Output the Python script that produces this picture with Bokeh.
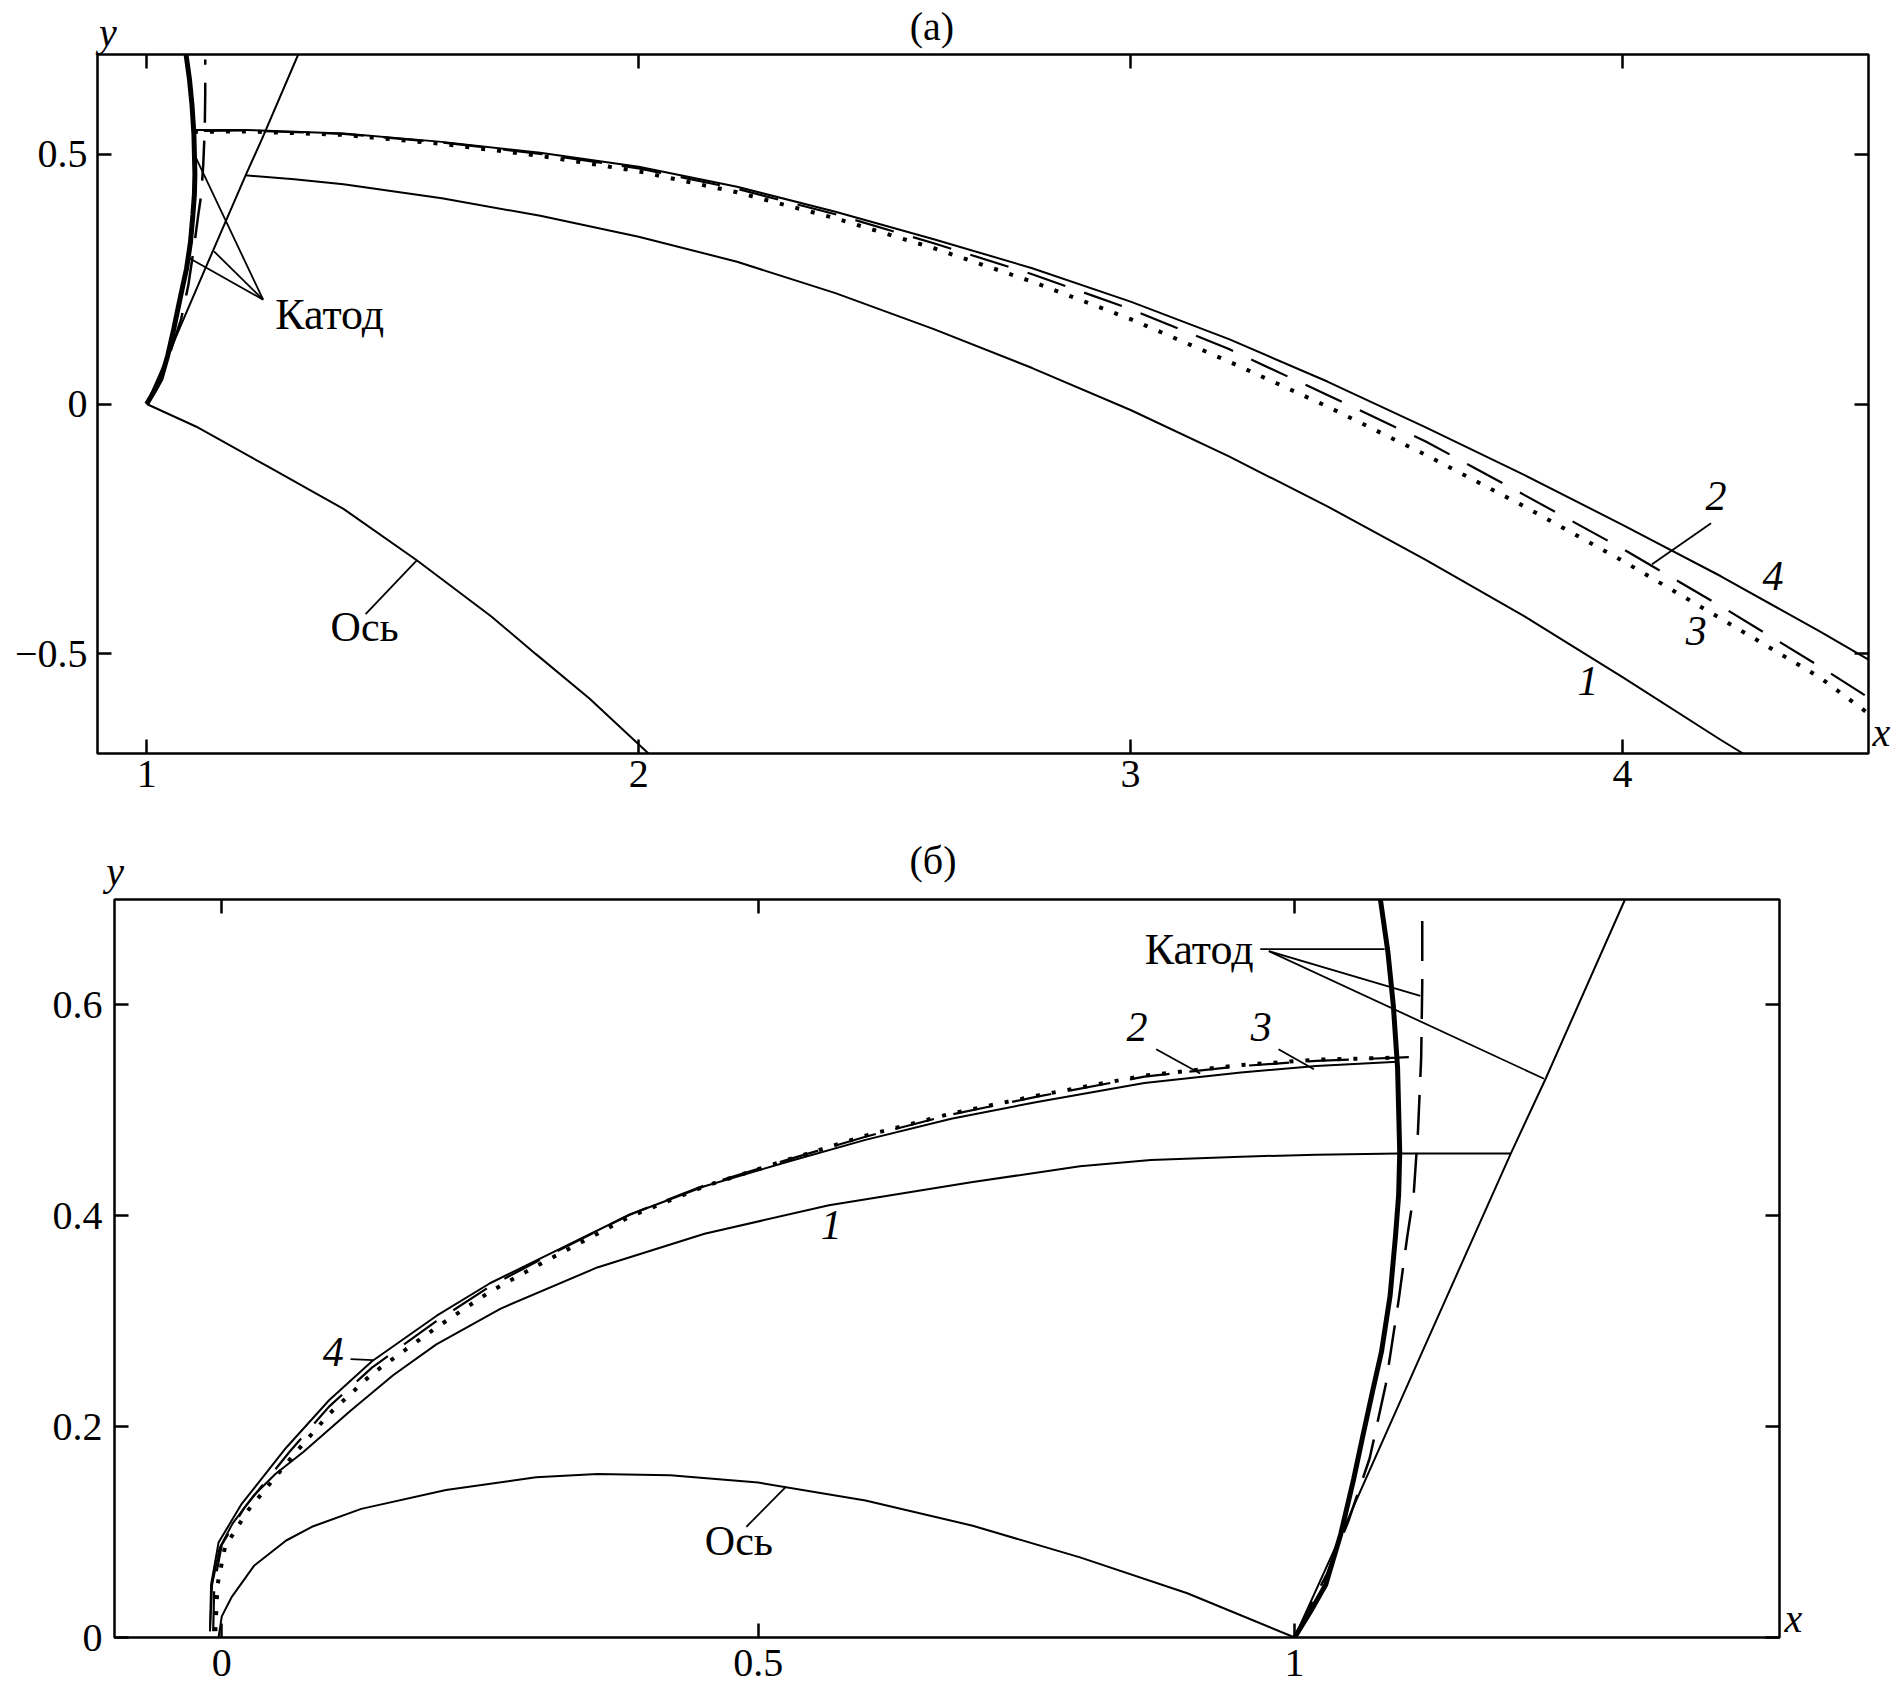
from bokeh.plotting import figure
from bokeh.layouts import column
from bokeh.models import LinearAxis, FixedTicker, Label, Range1d
from bokeh.embed import file_html
from bokeh.resources import INLINE

FONT = "Liberation Serif"

# ---------------- shared geometry ----------------
cathode_x = [1.0, 1.015, 1.029, 1.043, 1.055, 1.064, 1.073, 1.081, 1.089, 1.094, 1.097, 1.098, 1.096, 1.092, 1.087, 1.080]
cathode_y = [0.0, 0.025, 0.05, 0.098, 0.15, 0.193, 0.235, 0.271, 0.324, 0.38, 0.42, 0.46, 0.54, 0.60, 0.65, 0.70]
dcathode_x = [1.0, 1.03, 1.05, 1.07, 1.085, 1.097, 1.105, 1.111, 1.115, 1.118, 1.119, 1.119]
dcathode_y = [0.0, 0.06, 0.11, 0.17, 0.24, 0.32, 0.38, 0.42, 0.48, 0.55, 0.62, 0.69]
edge_x = [1.0, 1.04, 1.119, 1.2015, 1.234, 1.308]
edge_y = [0.0, 0.09, 0.271, 0.459, 0.53, 0.70]

# ---------------- panel (a) ----------------
a_xticks = [1, 2, 3, 4]
a_xticklabels = ["1", "2", "3", "4"]
a_yticks = [-0.5, 0, 0.5]
a_yticklabels = ["\u22120.5", "0", "0.5"]

a_c1_x = [1.2, 1.3, 1.4, 1.6, 1.8, 2.0, 2.2, 2.4, 2.6, 2.8, 3.0, 3.2, 3.4, 3.6, 3.8, 4.0, 4.2, 4.245]
a_c1_y = [0.458, 0.450, 0.440, 0.412, 0.377, 0.335, 0.285, 0.222, 0.150, 0.072, -0.012, -0.105, -0.205, -0.312, -0.425, -0.547, -0.673, -0.70]
a_c2_x = [1.116, 1.2, 1.4, 1.6, 1.8, 2.0, 2.2, 2.4, 2.6, 2.8, 3.0, 3.2, 3.4, 3.6, 3.8, 4.0, 4.2, 4.4, 4.5]
a_c2_y = [0.547, 0.548, 0.541, 0.524, 0.501, 0.472, 0.431, 0.380, 0.322, 0.260, 0.190, 0.110, 0.018, -0.075, -0.182, -0.290, -0.405, -0.525, -0.588]
a_c3_x = [1.096, 1.2, 1.4, 1.6, 1.8, 2.0, 2.2, 2.4, 2.6, 2.8, 3.0, 3.2, 3.4, 3.6, 3.8, 4.0, 4.2, 4.4, 4.5]
a_c3_y = [0.545, 0.546, 0.539, 0.521, 0.497, 0.466, 0.424, 0.372, 0.312, 0.245, 0.170, 0.085, -0.005, -0.102, -0.205, -0.314, -0.430, -0.547, -0.620]
a_c4_x = [1.096, 1.2, 1.4, 1.6, 1.8, 2.0, 2.2, 2.4, 2.6, 2.8, 3.0, 3.2, 3.4, 3.6, 3.8, 4.0, 4.2, 4.4, 4.5]
a_c4_y = [0.549, 0.549, 0.542, 0.525, 0.503, 0.475, 0.435, 0.385, 0.330, 0.272, 0.205, 0.130, 0.045, -0.047, -0.142, -0.242, -0.345, -0.455, -0.512]
a_axis_x = [1.0, 1.1, 1.246, 1.4, 1.549, 1.7, 1.79, 1.9, 2.02]
a_axis_y = [0.0, -0.045, -0.125, -0.21, -0.313, -0.425, -0.50, -0.59, -0.70]

# leader lines (a): x0, y0, x1, y1
a_lead_x0 = [1.2367, 1.2367, 1.2367, 1.445, 4.18]
a_lead_y0 = [0.2089, 0.2089, 0.2089, -0.421, -0.239]
a_lead_x1 = [1.1007, 1.087, 1.137, 1.549, 4.06]
a_lead_y1 = [0.492, 0.292, 0.3055, -0.313, -0.321]

# text labels inside frame (a)
a_txt = ["Катод", "Ось", "1", "2", "3", "4"]
a_txt_x = [1.372, 1.443, 3.93, 4.19, 4.15, 4.306]
a_txt_y = [0.180, -0.447, -0.555, -0.185, -0.455, -0.345]
a_txt_italic = [False, False, True, True, True, True]

# labels outside frame (a): title, y-name (on top), x-name (on right)
a_title = ["(а)"]
a_title_x = [2.596]
a_yname = ["y"]
a_yname_x = [0.921]
a_xname = ["x"]
a_xname_y = [-0.657]

# ---------------- panel (b) ----------------
b_xticks = [0, 0.5, 1]
b_xticklabels = ["0", "0.5", "1"]
b_yticks = [0, 0.2, 0.4, 0.6]
b_yticklabels = ["0", "0.2", "0.4", "0.6"]

b_c1_x = [-0.011, -0.009, -0.002, 0.01, 0.03, 0.05, 0.076, 0.12, 0.16, 0.2, 0.26, 0.35, 0.45, 0.566, 0.7, 0.8, 0.866, 0.95, 1.02, 1.097, 1.15, 1.2015]
b_c1_y = [0.006, 0.05, 0.085, 0.108, 0.135, 0.155, 0.176, 0.215, 0.249, 0.278, 0.312, 0.351, 0.383, 0.41, 0.432, 0.447, 0.453, 0.456, 0.458, 0.459, 0.459, 0.459]
b_c2_x = [-0.008, -0.007, 0.0, 0.021, 0.063, 0.1, 0.14, 0.2, 0.25, 0.3, 0.38, 0.45, 0.53, 0.6, 0.68, 0.76, 0.86, 0.95, 1.02, 1.096, 1.117]
b_c2_y = [0.006, 0.05, 0.088, 0.123, 0.176, 0.219, 0.256, 0.300, 0.333, 0.360, 0.401, 0.429, 0.454, 0.475, 0.496, 0.513, 0.532, 0.542, 0.547, 0.550, 0.551]
b_c3_x = [-0.006, -0.004, 0.003, 0.024, 0.066, 0.1, 0.14, 0.2, 0.25, 0.3, 0.38, 0.45, 0.53, 0.6, 0.68, 0.76, 0.86, 0.95, 1.02, 1.096]
b_c3_y = [0.006, 0.05, 0.086, 0.12, 0.172, 0.212, 0.25, 0.294, 0.328, 0.356, 0.399, 0.428, 0.454, 0.476, 0.497, 0.514, 0.533, 0.543, 0.548, 0.550]
b_c4_x = [-0.011, -0.01, -0.003, 0.018, 0.06, 0.1, 0.14, 0.2, 0.25, 0.3, 0.38, 0.45, 0.53, 0.6, 0.68, 0.76, 0.86, 0.95, 1.02, 1.096]
b_c4_y = [0.006, 0.05, 0.09, 0.126, 0.18, 0.225, 0.262, 0.305, 0.336, 0.361, 0.401, 0.428, 0.452, 0.472, 0.492, 0.508, 0.526, 0.536, 0.542, 0.546]
b_axis_x = [-0.003, 0.0, 0.009, 0.03, 0.06, 0.084, 0.13, 0.209, 0.293, 0.35, 0.418, 0.5, 0.6, 0.7, 0.8, 0.9, 1.0]
b_axis_y = [0.0, 0.02, 0.038, 0.068, 0.092, 0.105, 0.122, 0.14, 0.152, 0.155, 0.154, 0.147, 0.13, 0.106, 0.076, 0.042, 0.0]

b_lead_x0 = [0.968, 0.976, 0.976, 0.489, 0.871, 0.985, 0.12]
b_lead_y0 = [0.653, 0.651, 0.651, 0.105, 0.558, 0.558, 0.264]
b_lead_x1 = [1.0839, 1.1172, 1.2325, 0.526, 0.912, 1.018, 0.141]
b_lead_y1 = [0.653, 0.6085, 0.530, 0.143, 0.535, 0.539, 0.263]

b_txt = ["Катод", "Ось", "1", "2", "3", "4"]
b_txt_x = [0.911, 0.482, 0.568, 0.853, 0.969, 0.104]
b_txt_y = [0.653, 0.092, 0.391, 0.579, 0.579, 0.271]
b_txt_italic = [False, False, True, True, True, True]

b_title = ["(б)"]
b_title_x = [0.663]
b_yname = ["y"]
b_yname_x = [-0.0995]
b_xname = ["x"]
b_xname_y = [0.018]


def style_axis(ax, ticks, labels, standoff, show):
    ax.ticker = FixedTicker(ticks=ticks)
    ax.axis_line_color = None
    ax.major_tick_in = 14
    ax.major_tick_out = 0
    ax.major_tick_line_width = 2.5
    ax.major_tick_line_color = "black"
    ax.minor_tick_line_color = None
    ax.major_label_standoff = standoff
    ax.major_label_text_font = FONT
    if show:
        ax.major_label_overrides = {t: l for t, l in zip(ticks, labels)}
        ax.major_label_text_font_size = "40px"
        ax.major_label_text_color = "black"
    else:
        ax.major_label_text_font_size = "0px"
        ax.major_label_text_color = None


def name_axis(ticks, labels, standoff, italic, size):
    return LinearAxis(ticker=FixedTicker(ticks=ticks),
                      major_label_overrides={t: l for t, l in zip(ticks, labels)},
                      major_label_standoff=standoff, axis_line_color=None,
                      major_tick_line_color=None, minor_tick_line_color=None,
                      major_tick_in=0, major_tick_out=0,
                      major_label_text_font=FONT, major_label_text_font_size=size,
                      major_label_text_font_style="italic" if italic else "normal",
                      major_label_text_color="black")


def build(xr, yr, fw, fh, mb, xt, xtl, yt, ytl, xstand, ystand,
          yname, title, xname, stands):
    p = figure(output_backend="svg", toolbar_location=None,
               x_range=Range1d(*xr), y_range=Range1d(*yr),
               frame_width=fw, frame_height=fh, frame_align=False,
               min_border_left=mb[0], min_border_right=mb[1],
               min_border_top=mb[2], min_border_bottom=mb[3])
    p.xgrid.visible = False
    p.ygrid.visible = False
    p.outline_line_color = "black"
    p.outline_line_width = 2.5
    p.outline_line_alpha = 1.0
    p.background_fill_color = "white"
    p.border_fill_color = "white"
    style_axis(p.xaxis[0], xt, xtl, xstand, True)
    style_axis(p.yaxis[0], yt, ytl, ystand, True)
    top = LinearAxis()
    style_axis(top, xt, xtl, 0, False)
    p.add_layout(top, "above")
    right = LinearAxis()
    style_axis(right, yt, ytl, 0, False)
    p.add_layout(right, "right")
    # axis-name and panel-title labels carried by tick-less axes
    p.add_layout(name_axis(yname[1], yname[0], stands[0], True, "40px"), "above")
    p.add_layout(name_axis(title[1], title[0], stands[1], False, "40px"), "above")
    p.add_layout(name_axis(xname[1], xname[0], stands[2], True, "40px"), "right")
    return p


def draw(p, c1, c2, c3, c4, ax, lead, txt):
    p.line(cathode_x, cathode_y, line_color="black", line_width=5)
    p.line(dcathode_x, dcathode_y, line_color="black", line_width=2.5, line_dash="40 18")
    p.line(edge_x, edge_y, line_color="black", line_width=2)
    p.line(ax[0], ax[1], line_color="black", line_width=2)
    p.line(c1[0], c1[1], line_color="black", line_width=2)
    p.line(c4[0], c4[1], line_color="black", line_width=2)
    p.line(c2[0], c2[1], line_color="black", line_width=2.2, line_dash="40 20")
    p.line(c3[0], c3[1], line_color="black", line_width=4, line_dash="4 12")
    p.segment(x0=lead[0], y0=lead[1], x1=lead[2], y1=lead[3], line_color="black", line_width=1.8)
    for t, x, y, it in zip(*txt):
        size = "44px" if t == "Катод" else "42px"
        p.add_layout(Label(x=x, y=y, text=t, text_font=FONT, text_font_size=size,
                           text_font_style="italic" if it else "normal",
                           text_align="center", text_baseline="middle", text_color="black"))


pa = build((0.9, 4.5), (-0.7, 0.7), 1771, 699, (97, 34, 53, 56),
           a_xticks, a_xticklabels, a_yticks, a_yticklabels, 7, 10,
           (a_yname, a_yname_x), (a_title, a_title_x), (a_xname, a_xname_y),
           (0, -42, 4))
draw(pa, (a_c1_x, a_c1_y), (a_c2_x, a_c2_y), (a_c3_x, a_c3_y), (a_c4_x, a_c4_y),
     (a_axis_x, a_axis_y), (a_lead_x0, a_lead_y0, a_lead_x1, a_lead_y1),
     (a_txt, a_txt_x, a_txt_y, a_txt_italic))

pb = build((-0.1, 1.452), (0.0, 0.7), 1665, 738, (114, 123, 90, 60),
           b_xticks, b_xticklabels, b_yticks, b_yticklabels, 12, 12,
           (b_yname, b_yname_x), (b_title, b_title_x), (b_xname, b_xname_y),
           (6, -37, 5))
draw(pb, (b_c1_x, b_c1_y), (b_c2_x, b_c2_y), (b_c3_x, b_c3_y), (b_c4_x, b_c4_y),
     (b_axis_x, b_axis_y), (b_lead_x0, b_lead_y0, b_lead_x1, b_lead_y1),
     (b_txt, b_txt_x, b_txt_y, b_txt_italic))

layout = column(pa, pb, spacing=0)
open("out.html", "w").write(file_html(layout, INLINE))
